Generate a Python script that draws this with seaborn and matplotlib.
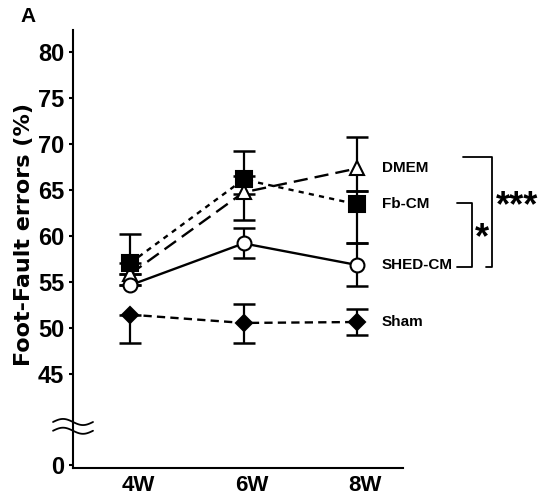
import numpy as np
import pandas as pd
import matplotlib
matplotlib.use("Agg")
import matplotlib.pyplot as plt
import matplotlib.transforms as mtransforms
import seaborn as sns

weeks = ["4W", "6W", "8W"]
groups = ["DMEM", "Fb-CM", "SHED-CM", "Sham"]
dmem_mean = [55.8, 64.7, 67.3]
dmem_lo = [0.0, 3.05, 2.5]
dmem_hi = [0.0, 1.8, 3.4]
fbcm_mean = [57.0, 66.1, 63.4]
fbcm_lo = [0.0, 1.6, 4.25]
fbcm_hi = [3.2, 3.1, 1.4]
shed_mean = [54.6, 59.15, 56.8]
shed_lo = [0.0, 1.55, 2.3]
shed_hi = [0.0, 1.65, 2.35]
sham_mean = [51.4, 50.5, 50.6]
sham_lo = [3.05, 2.15, 1.4]
sham_hi = [0.0, 2.1, 1.4]
ytick_vals = [45, 50, 55, 60, 65, 70, 75, 80]

means = {"DMEM": dmem_mean, "Fb-CM": fbcm_mean, "SHED-CM": shed_mean, "Sham": sham_mean}
errs = {"DMEM": [dmem_lo, dmem_hi], "Fb-CM": [fbcm_lo, fbcm_hi],
        "SHED-CM": [shed_lo, shed_hi], "Sham": [sham_lo, sham_hi]}

sns.set_style("ticks")
plt.rcParams["font.family"] = ["Liberation Sans", "DejaVu Sans"]
plt.rcParams["font.weight"] = "bold"
for k in ["text.color", "axes.labelcolor", "xtick.color", "ytick.color", "axes.edgecolor"]:
    plt.rcParams[k] = "black"

fig = plt.figure(figsize=(5.54, 4.97), dpi=100)
ax = fig.add_axes([0.1309, 0.0584, 0.5966, 0.881])

styles = {
    "DMEM": dict(marker="^", ms=10, mfc="white", ls=(0, (6, 3)), z=4),
    "Fb-CM": dict(marker="s", ms=11, mfc="black", ls=(0, (2.2, 2.2)), z=5),
    "SHED-CM": dict(marker="o", ms=10, mfc="white", ls="-", z=6),
    "Sham": dict(marker="D", ms=8.5, mfc="black", ls=(0, (3.5, 2.2)), z=4),
}

for g in groups:
    df = pd.DataFrame({"week": weeks, "value": means[g]})
    st = styles[g]
    ax.errorbar(np.arange(len(weeks)), means[g], yerr=errs[g], fmt="none",
                ecolor="black", elinewidth=1.6, capsize=8, capthick=1.8, zorder=2)
    sns.lineplot(data=df, x="week", y="value", ax=ax, color="black",
                 marker=st["marker"], markersize=st["ms"], markerfacecolor=st["mfc"],
                 markeredgecolor="black", markeredgewidth=1.5, linewidth=1.7,
                 linestyle=st["ls"], zorder=st["z"], sort=False)

ybottom = 34.73
ax.set_ylim(ybottom, 82.34)
ax.set_xlim(-0.507, 2.405)
ax.set_yticks([ybottom + 0.3] + ytick_vals)
ax.set_yticklabels(["0"] + [str(v) for v in ytick_vals], fontsize=17, fontweight="bold")
ax.set_xticks(range(len(weeks)))
ax.set_xticklabels(weeks, fontsize=16, fontweight="bold")
ax.tick_params(axis="x", length=0, pad=5)
ax.tick_params(axis="y", length=3, width=1.5, pad=3)
offset = mtransforms.ScaledTranslation(8 / 100, 0, fig.dpi_scale_trans)
for lab in ax.get_xticklabels():
    lab.set_transform(lab.get_transform() + offset)
ax.set_xlabel("")
ax.set_ylabel("")
sns.despine(ax=ax)
for s in ["left", "bottom"]:
    ax.spines[s].set_linewidth(1.5)
    ax.spines[s].set_color("black")

fig.text(24 / 554, 1 - 235 / 497, "Foot-Fault errors (%)", rotation=90, ha="center", va="center",
         fontsize=16, fontweight="bold", family=["DejaVu Sans"])
fig.text(20 / 554, 1 - 16 / 497, "A", ha="left", va="center", fontsize=15, fontweight="bold")

# group labels at 8W
for g in groups:
    ax.text(2.218, means[g][-1], g, ha="left", va="center", fontsize=11,
            fontweight="bold", clip_on=False)

# significance brackets
y_d = means["DMEM"][-1] + 1.2
y_f = means["Fb-CM"][-1] + 0.1
y_s = means["SHED-CM"][-1] - 0.2
bk = dict(color="black", lw=1.3, clip_on=False)
ax.plot([2.934, 3.189, 3.189, 3.137], [y_d, y_d, y_s, y_s], **bk)
ax.plot([2.878, 3.011, 3.011, 2.878], [y_f, y_f, y_s, y_s], **bk)
ax.text(3.225, (y_d + y_s) / 2 + 0.6, "***", ha="left", va="center", fontsize=26, clip_on=False)
ax.text(3.035, (y_f + y_s) / 2 - 0.35, "*", ha="left", va="center", fontsize=26, clip_on=False)

# axis break marks
t = np.linspace(0, 1, 60)
bx = -0.059 + t * 0.121
for yc in (0.105, 0.085):
    ax.plot(bx, yc + 0.007 * np.sin(2 * np.pi * t), color="black", lw=1.3,
            transform=ax.transAxes, clip_on=False, zorder=10)

fig.savefig("out.png", dpi=100)
